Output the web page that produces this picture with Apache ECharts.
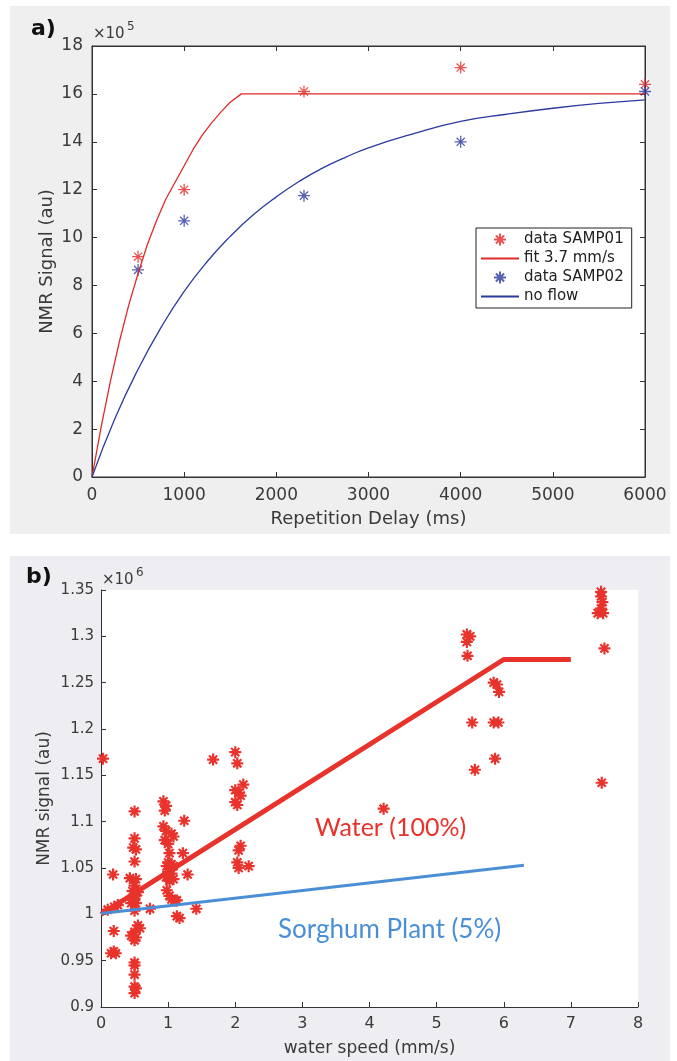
<!doctype html>
<html>
<head>
    <meta charset="utf-8">
    <title>NMR signal</title>
    <script src="https://cdn.jsdelivr.net/npm/echarts@6/dist/echarts.min.js"></script>
    <style>
        body{
            margin:0;
            padding:0;
            background:#fff;
        }
        #chart{
            width:677px;
            height:1061px;
        }
    </style>
</head>
<body>
<div id="chart"></div>
<script>
    // ---- panel a) : values in units of 1e5 ----
    var samp01X = [500, 1000, 2300, 4000, 6000];
    var samp01Y = [9.2, 12.0, 16.1, 17.1, 16.4];
    var samp02X = [500, 1000, 2300, 4000, 6000];
    var samp02Y = [8.65, 10.7, 11.75, 14.0, 16.1];

    // fit curves
    var fitX = [0, 100, 200, 300, 400, 500, 600, 700, 800, 900, 1000, 1100, 1200, 1300, 1400, 1500, 1620, 6000];
    var fitY = [0, 2.1, 4.0, 5.7, 7.2, 8.5, 9.7, 10.7, 11.6, 12.3, 13.0, 13.7, 14.3, 14.8, 15.25, 15.65, 16.0, 16.0];
    var noFlowX = [0, 250, 500, 750, 1000, 1250, 1500, 1750, 2000, 2250, 2500, 2750, 3000, 3500, 4000, 4500, 5000, 5500, 6000];
    var noFlowY = [0, 2.45, 4.5, 6.25, 7.75, 9.0, 10.05, 10.95, 11.7, 12.35, 12.9, 13.35, 13.75, 14.35, 14.85, 15.15, 15.4, 15.6, 15.75];

    // ---- panel b) : values in units of 1e6 ----
    var speedX = [
        0.03, 0.10, 0.20, 0.25, 0.18, 0.19, 0.15, 0.22, 0.19,
        0.50, 0.50, 0.48, 0.52, 0.50, 0.43, 0.52, 0.50, 0.47, 0.55, 0.50, 0.50, 0.45, 0.52, 0.50,
        0.55, 0.58, 0.50, 0.45, 0.52, 0.50, 0.50, 0.50, 0.50, 0.50, 0.52, 0.50,
        0.73,
        0.93, 0.97, 0.95, 0.93, 0.97, 1.05, 1.08, 0.95, 1.00, 1.02, 1.00, 1.05, 0.98, 1.03, 1.08,
        1.00, 1.05, 0.97, 1.08, 1.02, 0.98, 1.02, 1.05, 1.10, 1.13, 1.13, 1.17,
        1.24, 1.22, 1.29, 1.42, 1.67,
        2.00, 2.03, 2.00, 2.05, 2.12, 2.08, 2.00, 2.03, 2.08, 2.05, 2.03, 2.05, 2.20,
        4.21,
        5.45, 5.50, 5.45, 5.46, 5.53, 5.57,
        5.85, 5.90, 5.93, 5.85, 5.92, 5.87,
        7.45, 7.45, 7.47, 7.45, 7.40, 7.48, 7.50, 7.46
    ];
    var signalY = [
        1.168, 1.005, 1.008, 1.010, 1.043, 0.982, 0.958, 0.958, 0.960,
        1.111, 1.082, 1.072, 1.070, 1.057, 1.039, 1.038, 1.031, 1.025, 1.024, 1.020, 1.017, 1.012, 1.012, 1.004,
        0.988, 0.985, 0.981, 0.977, 0.975, 0.972, 0.948, 0.945, 0.935, 0.922, 0.920, 0.915,
        1.006,
        1.122, 1.117, 1.112, 1.095, 1.090, 1.087, 1.084, 1.080, 1.076, 1.066, 1.056, 1.054, 1.052, 1.050, 1.052,
        1.046, 1.044, 1.040, 1.038, 1.036, 1.026, 1.020, 1.016, 1.015, 1.015, 0.998, 0.996,
        1.101, 1.066, 1.043, 1.006, 1.167,
        1.175, 1.163, 1.134, 1.131, 1.140, 1.128, 1.121, 1.118, 1.074, 1.069, 1.056, 1.050, 1.052,
        1.114,
        1.302, 1.300, 1.294, 1.279, 1.207, 1.156,
        1.250, 1.248, 1.240, 1.207, 1.207, 1.168,
        1.348, 1.343, 1.337, 1.330, 1.325, 1.325, 1.287, 1.142
    ];
    var waterFitX = [0, 6, 7];
    var waterFitY = [1.0, 1.275, 1.275];
    var plantFitX = [0, 6.3];
    var plantFitY = [1.001, 1.053];

    function pairs(xs, ys){
        var out = [];
        for (var i = 0; i < xs.length; i++) out.push([xs[i], ys[i]]);
        return out;
    }

    var star = 'path://M5,0L5,10M0,5L10,5M1.6,1.6L8.4,8.4M8.4,1.6L1.6,8.4';
    var axisCol = '#333';
    var labelCol = '#3a3a3a';
    var redA = '#e02a2a', blueA = '#2c3a9e';
    var redB = '#e8332c', blueB = '#4a8fd6';

    var dom = document.getElementById('chart');
    var myChart = echarts.init(dom);

    function plain(v){ return String(v); }

    function valAxis(opt){
        var base = {
            type: 'value',
            axisLine: {show: true, onZero: false, lineStyle: {color: axisCol, width: 1}},
            axisTick: {show: true, inside: true, length: 5, lineStyle: {color: axisCol}},
            splitLine: {show: false},
            nameMoveOverlap: false,
            axisLabel: {color: labelCol, fontSize: 17, fontFamily: 'DejaVu Sans', formatter: plain},
            nameTextStyle: {color: labelCol, fontSize: 18, fontFamily: 'DejaVu Sans'}
        };
        for (var k in opt) base[k] = opt[k];
        return base;
    }

    option = {
        animation: false,
        graphic: [
            {type: 'rect', z: -10, shape: {x: 10, y: 6, width: 660, height: 528}, style: {fill: '#efefef'}},
            {type: 'rect', z: -10, shape: {x: 10, y: 556, width: 660, height: 505}, style: {fill: '#eeeef2'}},
            {type: 'text', left: 31, top: 18, style: {text: 'a)', fontSize: 22, fontWeight: 'bold', fill: '#111', fontFamily: 'DejaVu Sans'}},
            {type: 'text', left: 93, top: 27, style: {text: '×10', fontSize: 15, fill: labelCol, fontFamily: 'DejaVu Sans'}},
            {type: 'text', left: 127, top: 21, style: {text: '5', fontSize: 12, fill: labelCol, fontFamily: 'DejaVu Sans'}},
            {type: 'text', left: 26, top: 566, style: {text: 'b)', fontSize: 22, fontWeight: 'bold', fill: '#111', fontFamily: 'DejaVu Sans'}},
            {type: 'text', left: 102, top: 573, style: {text: '×10', fontSize: 15, fill: labelCol, fontFamily: 'DejaVu Sans'}},
            {type: 'text', left: 136, top: 567, style: {text: '6', fontSize: 12, fill: labelCol, fontFamily: 'DejaVu Sans'}},
            {type: 'text', left: 315, top: 815, style: {text: 'Water (100%)', fontSize: 25, fill: redB, fontFamily: 'Lato'}},
            {type: 'text', left: 278, top: 917, style: {text: 'Sorghum Plant (5%)', fontSize: 26, fill: blueB, fontFamily: 'Lato'}}
        ],
        legend: {
            data: [
                {name: 'data SAMP01'},
                {name: 'fit 3.7 mm/s', itemStyle: {opacity: 0}},
                {name: 'data SAMP02'},
                {name: 'no flow', itemStyle: {opacity: 0}}
            ],
            orient: 'vertical',
            left: 476,
            top: 228,
            width: 154,
            padding: [4, 8, 4, 4],
            itemGap: 4,
            itemWidth: 38,
            itemHeight: 12,
            backgroundColor: '#fff',
            borderColor: '#222',
            borderWidth: 1,
            borderRadius: 0,
            textStyle: {color: '#222', fontSize: 15, fontFamily: 'DejaVu Sans'}
        },
        grid: [
            {left: 92, top: 46, width: 553, height: 431, show: true, backgroundColor: '#fff', borderWidth: 1, borderColor: axisCol},
            {left: 101, top: 590, width: 537, height: 417, show: true, backgroundColor: '#fff', borderWidth: 0}
        ],
        xAxis: [
            valAxis({gridIndex: 0, min: 0, max: 6000, interval: 1000,
                name: 'Repetition Delay (ms)', nameLocation: 'middle', nameGap: 33,
                axisLabel: {color: labelCol, fontSize: 17, fontFamily: 'DejaVu Sans', margin: 10, formatter: plain}}),
            valAxis({gridIndex: 0, min: 0, max: 6000, interval: 1000, position: 'top',
                axisLabel: {show: false}}),
            valAxis({gridIndex: 1, min: 0, max: 8, interval: 1,
                name: 'water speed (mm/s)', nameLocation: 'middle', nameGap: 33,
                nameTextStyle: {color: labelCol, fontSize: 17, fontFamily: 'DejaVu Sans'},
                axisLabel: {color: labelCol, fontSize: 16, fontFamily: 'DejaVu Sans', margin: 9, formatter: plain}})
        ],
        yAxis: [
            valAxis({gridIndex: 0, min: 0, max: 18, interval: 2,
                name: 'NMR Signal (au)', nameLocation: 'middle', nameGap: 36,
                axisLabel: {color: labelCol, fontSize: 17, fontFamily: 'DejaVu Sans', margin: 9, formatter: plain}}),
            valAxis({gridIndex: 0, min: 0, max: 18, interval: 2, position: 'right',
                axisLabel: {show: false}}),
            valAxis({gridIndex: 1, min: 0.9, max: 1.35, interval: 0.05,
                name: 'NMR signal (au)', nameLocation: 'middle', nameGap: 48,
                nameTextStyle: {color: labelCol, fontSize: 17, fontFamily: 'DejaVu Sans'},
                axisLabel: {color: labelCol, fontSize: 15, fontFamily: 'DejaVu Sans', margin: 7}})
        ],
        series: [
            {
                name: 'fit 3.7 mm/s', type: 'line', xAxisIndex: 0, yAxisIndex: 0,
                data: pairs(fitX, fitY), showSymbol: false,
                lineStyle: {color: redA, width: 1.3}, itemStyle: {color: redA}
            },
            {
                name: 'no flow', type: 'line', xAxisIndex: 0, yAxisIndex: 0,
                data: pairs(noFlowX, noFlowY), showSymbol: false, smooth: true,
                lineStyle: {color: blueA, width: 1.3}, itemStyle: {color: blueA}
            },
            {
                name: 'data SAMP01', type: 'scatter', xAxisIndex: 0, yAxisIndex: 0,
                data: pairs(samp01X, samp01Y), symbol: star, symbolSize: 12,
                itemStyle: {color: 'rgba(0,0,0,0)', borderColor: redA, borderWidth: 1.3}
            },
            {
                name: 'data SAMP02', type: 'scatter', xAxisIndex: 0, yAxisIndex: 0,
                data: pairs(samp02X, samp02Y), symbol: star, symbolSize: 12,
                itemStyle: {color: 'rgba(0,0,0,0)', borderColor: blueA, borderWidth: 1.3}
            },
            {
                name: 'water', type: 'scatter', xAxisIndex: 2, yAxisIndex: 2,
                data: pairs(speedX, signalY), symbol: star, symbolSize: 12,
                itemStyle: {color: 'rgba(0,0,0,0)', borderColor: redB, borderWidth: 2.2, opacity: 1}
            },
            {
                name: 'water fit', type: 'line', xAxisIndex: 2, yAxisIndex: 2,
                data: pairs(waterFitX, waterFitY), showSymbol: false, z: 3,
                lineStyle: {color: redB, width: 5}
            },
            {
                name: 'plant fit', type: 'line', xAxisIndex: 2, yAxisIndex: 2,
                data: pairs(plantFitX, plantFitY), showSymbol: false, z: 3,
                lineStyle: {color: blueB, width: 3}
            }
        ]
    };
    myChart.setOption(option, true);
</script>
</body>
</html>
